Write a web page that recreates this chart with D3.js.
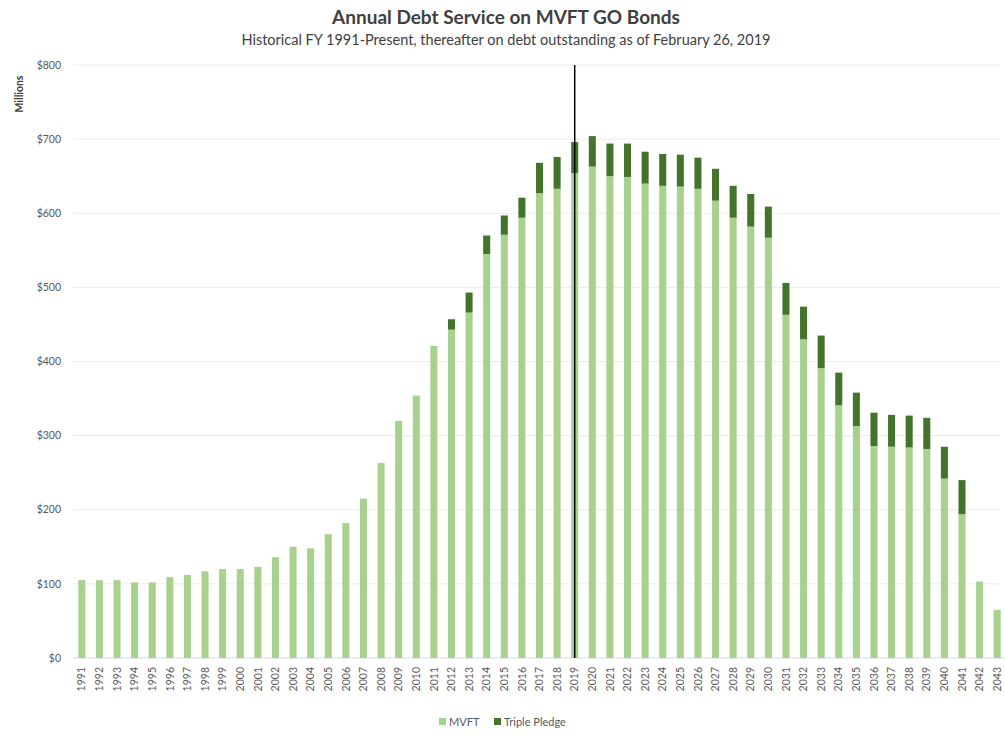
<!DOCTYPE html>
<html><head><meta charset="utf-8">
<script src="https://cdn.jsdelivr.net/npm/d3@7"></script>
<style>body{margin:0;background:#fff;} svg{display:block;font-family:Lato, "Open Sans", sans-serif;}</style>
</head><body>
<svg id="chart" width="1005" height="738"></svg>
<script>
const years = ["1991","1992","1993","1994","1995","1996","1997","1998","1999","2000","2001","2002","2003","2004","2005","2006","2007","2008","2009","2010","2011","2012","2013","2014","2015","2016","2017","2018","2019","2020","2021","2022","2023","2024","2025","2026","2027","2028","2029","2030","2031","2032","2033","2034","2035","2036","2037","2038","2039","2040","2041","2042","2043"];
const mvft = [105,105,105,102,102,109,112,117,120,120,123,136,150,148,167,182,215,263,320,354,421,443,466,545,571,594,627,633,654,663,650,649,640,637,636,633,617,594,582,567,463,430,391,341,313,286,285,284,282,242,194,103,65];
const triplePledge = [0,0,0,0,0,0,0,0,0,0,0,0,0,0,0,0,0,0,0,0,0,14,27,25,26,27,41,43,42,41,44,45,43,43,43,42,43,43,44,42,43,44,44,44,45,45,43,43,42,43,46,0,0];
const yTicks = [0,100,200,300,400,500,600,700,800];
const seriesNames = ["MVFT","Triple Pledge"];
const colors = ["#a9d18e","#44742c"];
const markerYear = "2019";

const svg = d3.select("#chart");
const x = d3.scaleBand().domain(years).range([73,1006]).paddingInner(0.6).paddingOuter(0.3);
const y = d3.scaleLinear().domain([0,800]).range([658,65]);

// gridlines
svg.append("g").selectAll("line").data(yTicks.filter(d=>d>0)).join("line")
  .attr("x1",73).attr("x2",1000).attr("y1",d=>y(d)).attr("y2",d=>y(d))
  .attr("stroke","#ececec").attr("stroke-width",1);

// y labels
svg.append("g").selectAll("text").data(yTicks).join("text")
  .attr("x",61).attr("y",d=>y(d)).attr("dy","0.35em").attr("text-anchor","end")
  .attr("font-size",10.5).attr("fill","#595959").text(d=>"$"+d);

svg.append("text").attr("transform","translate(23,94) rotate(-90)").attr("text-anchor","middle")
  .attr("font-size",10.5).attr("font-weight","bold").attr("fill","#404040").text("Millions");

// baseline
svg.append("line").attr("x1",73).attr("x2",1005).attr("y1",y(0)).attr("y2",y(0)).attr("stroke","#d9d9d9");

const data = years.map((yr,i)=>({year:yr, MVFT:mvft[i], "Triple Pledge":triplePledge[i]}));
const stacked = d3.stack().keys(seriesNames)(data);
svg.append("g").selectAll("g").data(stacked).join("g").attr("fill",(d,i)=>colors[i])
  .selectAll("rect").data(d=>d).join("rect")
  .attr("x",d=>x(d.data.year)).attr("width",x.bandwidth())
  .attr("y",d=>y(d[1])).attr("height",d=>Math.max(0,y(d[0])-y(d[1])));

// x labels
svg.append("g").selectAll("text").data(years).join("text")
  .attr("transform",d=>`translate(${x(d)+x.bandwidth()/2},667) rotate(-90)`)
  .attr("dy","0.35em").attr("text-anchor","end").attr("font-size",10.5).attr("fill","#595959").text(d=>d);

// marker line
const mx = x(markerYear)+x.bandwidth()/2;
svg.append("line").attr("x1",mx).attr("x2",mx).attr("y1",y(800)).attr("y2",y(0)).attr("stroke","#000").attr("stroke-width",1.5);

// titles
svg.append("text").attr("x",506).attr("y",24).attr("text-anchor","middle").attr("font-size",19).attr("font-weight","bold").attr("fill","#404040").text("Annual Debt Service on MVFT GO Bonds");
svg.append("text").attr("x",506).attr("y",45).attr("text-anchor","middle").attr("font-size",14.5).attr("fill","#404040").text("Historical FY 1991-Present, thereafter on debt outstanding as of February 26, 2019");

// legend
const leg = svg.append("g");
const legX = [439, 494];
seriesNames.forEach((n,i)=>{
  leg.append("rect").attr("x",legX[i]).attr("y",718).attr("width",7).attr("height",7).attr("fill",colors[i]);
  leg.append("text").attr("x",legX[i]+10).attr("y",722).attr("dy","0.35em").attr("font-size",11).attr("fill","#595959").text(n);
});
</script>
</body></html>
